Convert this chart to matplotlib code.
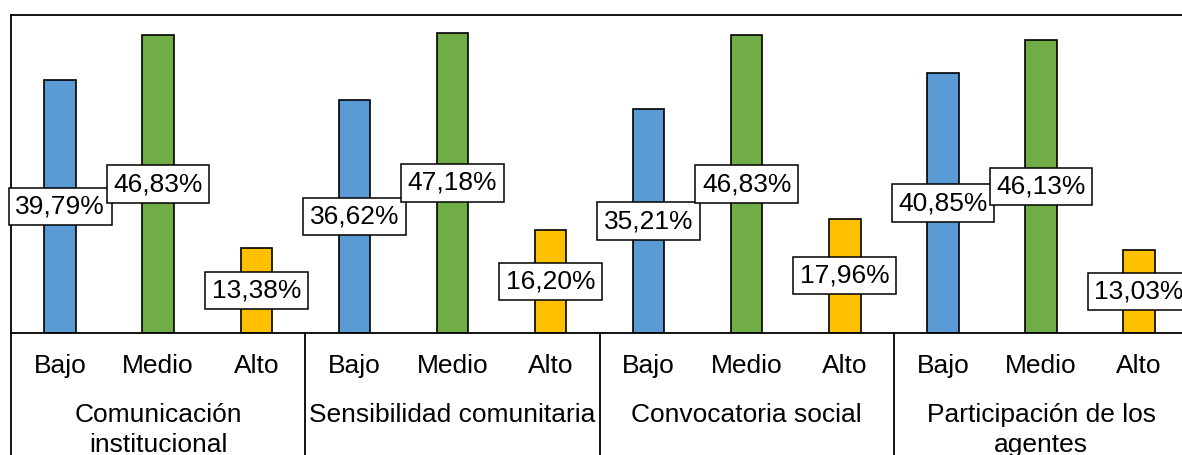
import numpy as np
import matplotlib.pyplot as plt

plt.rcParams['font.family'] = ['Liberation Sans', 'DejaVu Sans']

groups = ['Comunicación\ninstitucional', 'Sensibilidad comunitaria',
          'Convocatoria social', 'Participación de los\nagentes']
levels = ['Bajo', 'Medio', 'Alto']
bajo = [39.79, 36.62, 35.21, 40.85]
medio = [46.83, 47.18, 46.83, 46.13]
alto = [13.38, 16.20, 17.96, 13.03]
colors = ['#5B9BD5', '#70AD47', '#FFC000']

fig = plt.figure(figsize=(11.82, 4.55), dpi=100)
# axes runs a little past the right edge, like the original
ax = fig.add_axes([11/1182, 122/455, 4*294.3/1182, 318/455])

fs = 19
for g in range(len(groups)):
    vals = [bajo[g], medio[g], alto[g]]
    for k in range(3):
        x = g*3 + k
        ax.bar(x, vals[k], width=0.32, color=colors[k], edgecolor='black', linewidth=1.2, zorder=2)
        lab = ('%.2f' % vals[k]).replace('.', ',') + '%'
        ax.text(x, vals[k]/2, lab, ha='center', va='center', fontsize=fs, zorder=3,
                bbox=dict(boxstyle='square,pad=0.25', fc='white', ec='black', lw=1.1))

ax.set_xlim(-0.5, 11.5)
ax.set_ylim(0, 50)
ax.set_xticks([])
ax.set_yticks([])
for s in ['left', 'top', 'bottom']:
    ax.spines[s].set_linewidth(1.3)
ax.spines['right'].set_visible(False)

tr = ax.get_xaxis_transform()
for g in range(len(groups)):
    for k in range(3):
        ax.text(g*3 + k, -0.126, levels[k], transform=tr, ha='center', va='baseline',
                fontsize=fs, clip_on=False)
    lines = groups[g].split('\n')
    for i, line in enumerate(lines):
        ax.text(g*3 + 1, -0.28 - i*0.0943, line, transform=tr, ha='center', va='baseline',
                fontsize=fs, clip_on=False)
    ax.plot([g*3 - 0.5, g*3 - 0.5], [0, -0.5], transform=tr, color='black', lw=1.3, clip_on=False)

fig.savefig('out.png', dpi=100)
